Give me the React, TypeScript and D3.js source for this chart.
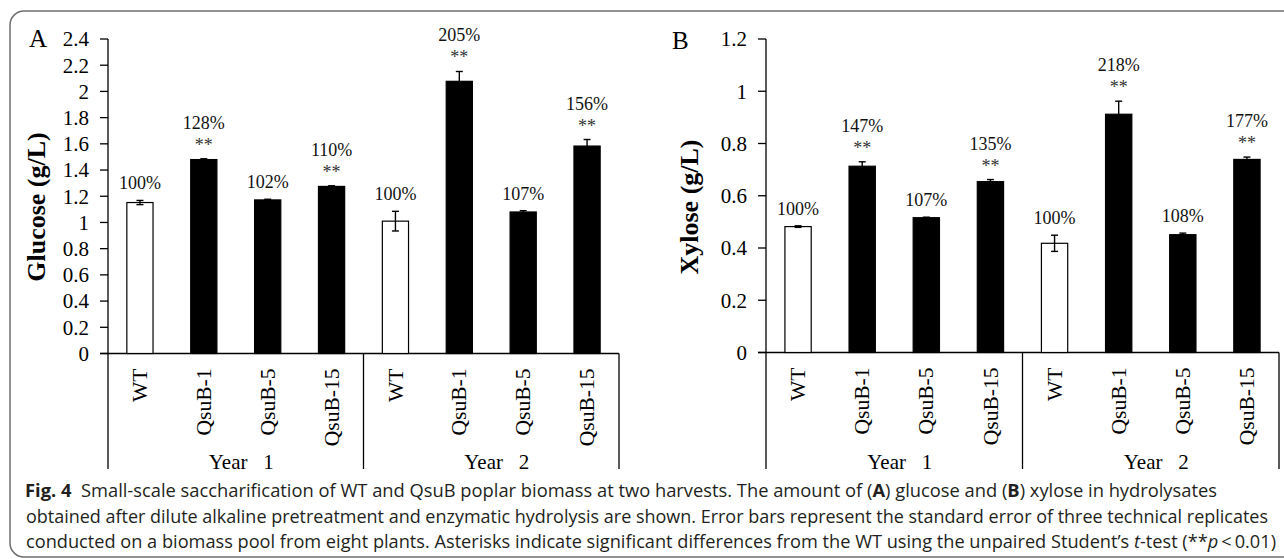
import React from "react";
import * as d3 from "d3";

const categories = ["WT", "QsuB-1", "QsuB-5", "QsuB-15", "WT", "QsuB-1", "QsuB-5", "QsuB-15"];
const yearLabels = ["Year   1", "Year   2"];
const isWT = [true, false, false, false, true, false, false, false];

const glucose = [1.152, 1.48, 1.172, 1.275, 1.01, 2.077, 1.08, 1.583];
const glucoseErr = [0.016, 0.006, 0.005, 0.005, 0.075, 0.075, 0.01, 0.05];
const glucosePct = ["100%", "128%", "102%", "110%", "100%", "205%", "107%", "156%"];
const glucoseSig = [false, true, false, true, false, true, false, true];
const glucoseTicks = [0, 0.2, 0.4, 0.6, 0.8, 1, 1.2, 1.4, 1.6, 1.8, 2, 2.2, 2.4];

const xylose = [0.482, 0.713, 0.516, 0.654, 0.418, 0.912, 0.451, 0.739];
const xyloseErr = [0.003, 0.017, 0.002, 0.008, 0.031, 0.05, 0.006, 0.009];
const xylosePct = ["100%", "147%", "107%", "135%", "100%", "218%", "108%", "177%"];
const xyloseSig = [false, true, false, true, false, true, false, true];
const xyloseTicks = [0, 0.2, 0.4, 0.6, 0.8, 1, 1.2];

const captionLines = [
  [
    { t: "Fig. 4", b: true },
    { t: "\u00a0\u00a0Small-scale saccharification of WT and QsuB poplar biomass at two harvests. The amount of (" },
    { t: "A", b: true },
    { t: ") glucose and (" },
    { t: "B", b: true },
    { t: ") xylose in hydrolysates" },
  ],
  [
    { t: "obtained after dilute alkaline pretreatment and enzymatic hydrolysis are shown. Error bars represent the standard error of three technical replicates" },
  ],
  [
    { t: "conducted on a biomass pool from eight plants. Asterisks indicate significant differences from the WT using the unpaired Student\u2019s " },
    { t: "t", i: true },
    { t: "-test (**" },
    { t: "p", i: true },
    { t: "\u2009<\u20090.01)" },
  ],
];

const SERIF = "'Liberation Serif', 'Times New Roman', Times, serif";
const SANS = "'Open Sans', 'Noto Sans', 'DejaVu Sans', sans-serif";

type PanelProps = {
  x0: number;
  x1: number;
  yZero: number;
  yTop: number;
  max: number;
  ticks: number[];
  values: number[];
  errs: number[];
  pcts: string[];
  sigs: boolean[];
  ylabel: string;
  ylabelX: number;
  letter: string;
  letterX: number;
  letterY: number;
  tickLabelGap: number;
};

function Panel(p: PanelProps) {
  const idx = categories.map((_, i) => i);
  const x = d3.scaleBand<number>().domain(idx).range([p.x0, p.x1]).padding(0);
  const y = d3.scaleLinear().domain([0, p.max]).range([p.yZero, p.yTop]);
  const bw = x.bandwidth() * 0.41;
  const bottom = 469;
  const groupX = d3.scaleBand<number>().domain([0, 1]).range([p.x0, p.x1]);
  return (
    <g>
      <text x={p.letterX} y={p.letterY} fontFamily={SERIF} fontSize={25}>{p.letter}</text>
      <text
        transform={`translate(${p.ylabelX},207) rotate(-90)`}
        textAnchor="middle"
        fontFamily={SERIF}
        fontWeight="bold"
        fontSize={26}
      >
        {p.ylabel}
      </text>
      {/* y axis */}
      <line x1={p.x0} x2={p.x0} y1={y(p.max)} y2={bottom} stroke="#000" strokeWidth={1.3} />
      {p.ticks.map((t) => (
        <g key={t}>
          <line x1={p.x0 - 8} x2={p.x0} y1={y(t)} y2={y(t)} stroke="#000" strokeWidth={1.3} />
          <text
            x={p.x0 - p.tickLabelGap}
            y={y(t)}
            dy="0.35em"
            textAnchor="end"
            fontFamily={SERIF}
            fontSize={21}
          >
            {String(+t.toFixed(1))}
          </text>
        </g>
      ))}
      {/* x axis */}
      <line x1={p.x0 - 8} x2={p.x1} y1={y(0)} y2={y(0)} stroke="#000" strokeWidth={1.3} />
      <line x1={groupX(1)!} x2={groupX(1)!} y1={y(0)} y2={bottom} stroke="#000" strokeWidth={1.3} />
      <line x1={p.x1} x2={p.x1} y1={y(0)} y2={bottom} stroke="#000" strokeWidth={1.3} />
      {/* bars */}
      {idx.map((i) => {
        const cx = x(i)! + x.bandwidth() / 2;
        const v = p.values[i];
        const e = p.errs[i];
        const top = y(v + e);
        return (
          <g key={i}>
            <rect
              x={cx - bw / 2}
              y={y(v)}
              width={bw}
              height={y(0) - y(v)}
              fill={isWT[i] ? "#fff" : "#000"}
              stroke="#000"
              strokeWidth={1.2}
            />
            <line x1={cx} x2={cx} y1={y(v + e)} y2={y(v - e)} stroke="#000" strokeWidth={1.4} />
            <line x1={cx - 3.5} x2={cx + 3.5} y1={y(v + e)} y2={y(v + e)} stroke="#000" strokeWidth={1.4} />
            <line x1={cx - 3.5} x2={cx + 3.5} y1={y(v - e)} y2={y(v - e)} stroke={isWT[i] ? "#000" : "#000"} strokeWidth={1.4} />
            {p.sigs[i] ? (
              <>
                <text x={cx} y={top - 8} textAnchor="middle" fontFamily={SERIF} fontSize={18} fill="#333">**</text>
                <text x={cx} y={top - 30} textAnchor="middle" fontFamily={SERIF} fontSize={18} fill="#111">{p.pcts[i]}</text>
              </>
            ) : (
              <text x={cx} y={top - 11} textAnchor="middle" fontFamily={SERIF} fontSize={18} fill="#111">{p.pcts[i]}</text>
            )}
            <text
              transform={`translate(${cx},${y(0) + 15}) rotate(-90)`}
              textAnchor="end"
              dy="0.33em"
              fontFamily={SERIF}
              fontSize={21.5}
            >
              {categories[i]}
            </text>
          </g>
        );
      })}
      {yearLabels.map((yl, g) => (
        <text
          key={g}
          x={groupX(g)! + groupX.bandwidth() / 2 + 5.5}
          y={469}
          textAnchor="middle"
          fontFamily={SERIF}
          fontSize={21}
          style={{ whiteSpace: "pre" }}
        >
          {yl}
        </text>
      ))}
    </g>
  );
}

const captionX = [25, 26, 26];
const captionY = [497, 523, 548];
const captionLen = [1192, 1242, 1250];

export default function App() {
  return (
    <svg
      width={1284}
      height={559}
      style={{ position: "absolute", left: 0, top: 0, background: "#fff" }}
    >
      <rect x={10} y={11} width={1300} height={546} rx={14} ry={14} fill="#fff" stroke="#6f6f6f" strokeWidth={1.5} />
      <Panel
        x0={108}
        x1={619}
        yZero={353.5}
        yTop={39}
        max={2.4}
        ticks={glucoseTicks}
        values={glucose}
        errs={glucoseErr}
        pcts={glucosePct}
        sigs={glucoseSig}
        ylabel="Glucose (g/L)"
        ylabelX={45}
        letter="A"
        letterX={29}
        letterY={47}
        tickLabelGap={19}
      />
      <Panel
        x0={766}
        x1={1279}
        yZero={352.5}
        yTop={39}
        max={1.2}
        ticks={xyloseTicks}
        values={xylose}
        errs={xyloseErr}
        pcts={xylosePct}
        sigs={xyloseSig}
        ylabel="Xylose (g/L)"
        ylabelX={698}
        letter="B"
        letterX={672}
        letterY={49}
        tickLabelGap={19}
      />
      {captionLines.map((line, li) => (
        <text
          key={li}
          x={captionX[li]}
          y={captionY[li]}
          fontFamily={SANS}
          fontSize={17.5}
          fill="#231f20"
          textLength={captionLen[li]}
          lengthAdjust="spacingAndGlyphs"
          style={{ whiteSpace: "pre" }}
        >
          {line.map((s: any, si) => (
            <tspan key={si} fontWeight={s.b ? "bold" : "normal"} fontStyle={s.i ? "italic" : "normal"}>
              {s.t}
            </tspan>
          ))}
        </text>
      ))}
    </svg>
  );
}
